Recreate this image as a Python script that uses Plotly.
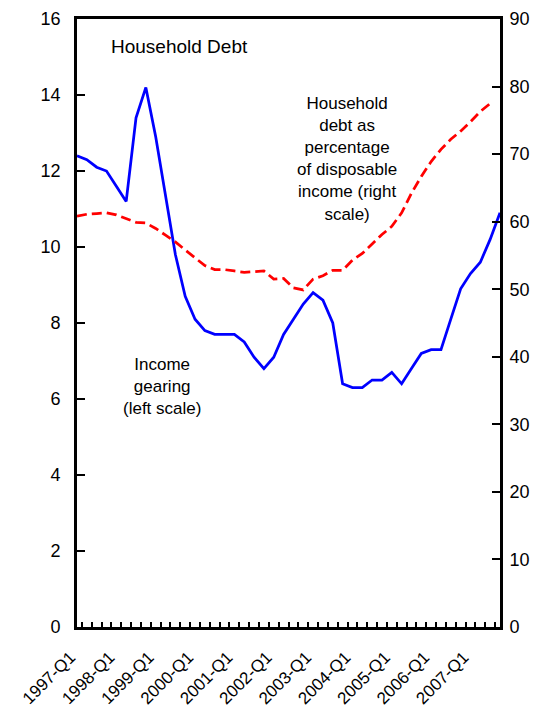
import plotly.graph_objects as go
from plotly.subplots import make_subplots

# palette / fonts
BLUE = "#0000FF"
RED = "#FF0000"
INK = "#000000"
FONT = "Arial, Liberation Sans, sans-serif"

# quarters 1997-Q1 .. 2007-Q4
years = list(range(1997, 2008))
quarters = [f"{y}-Q{q}" for y in years for q in range(1, 5)]
# trailing non-breaking spaces nudge the rotated labels down-left, like the original
tick_text = [q + "\u00a0\u00a0" if q.endswith("Q1") else "" for q in quarters]

# income gearing, % (left scale)
income_gearing = [
    12.4, 12.3, 12.1, 12.0, 11.6, 11.2, 13.4, 14.2,
    12.9, 11.4, 9.8, 8.7, 8.1, 7.8, 7.7, 7.7,
    7.7, 7.5, 7.1, 6.8, 7.1, 7.7, 8.1, 8.5,
    8.8, 8.6, 8.0, 6.4, 6.3, 6.3, 6.5, 6.5,
    6.7, 6.4, 6.8, 7.2, 7.3, 7.3, 8.1, 8.9,
    9.3, 9.6, 10.2, 10.9,
]

# household debt as % of disposable income (right scale)
debt_to_income = [
    60.8, 61.1, 61.2, 61.3, 61.0, 60.5, 59.9, 59.8,
    59.0, 58.0, 57.0, 55.8, 54.6, 53.5, 52.9, 52.9,
    52.7, 52.5, 52.6, 52.7, 51.5, 51.6, 50.2, 49.9,
    51.5, 52.0, 52.8, 52.8, 54.3, 55.3, 56.7, 58.1,
    59.3, 61.3, 64.2, 66.7, 68.9, 70.7, 72.2, 73.4,
    74.8, 76.3, 77.5, None,
]

fig = make_subplots(specs=[[{"secondary_y": True}]])

fig.add_trace(
    go.Scatter(x=quarters, y=income_gearing, mode="lines",
               line=dict(color=BLUE, width=2.75), showlegend=False),
    secondary_y=False,
)
fig.add_trace(
    go.Scatter(x=quarters, y=debt_to_income, mode="lines",
               line=dict(color=RED, width=2.75, dash="10px,5px"), showlegend=False),
    secondary_y=True,
)

# page body adds an 8px offset, so margins are trimmed by that amount
fig.update_layout(
    width=539, height=717,
    paper_bgcolor="white", plot_bgcolor="white",
    font=dict(family=FONT, color=INK, size=18),
    margin=dict(l=69, r=47, t=11, b=98),
    showlegend=False,
)

fig.update_xaxes(
    type="category", automargin=False, domain=[0, 1],
    tickmode="array", tickvals=quarters, ticktext=tick_text,
    tickson="boundaries", ticks="inside", ticklen=5, tickwidth=1.5, tickcolor=INK,
    tickangle=-45, tickfont=dict(size=17), ticklabelstandoff=4,
    showline=True, linecolor=INK, linewidth=2.75, mirror=True,
    showgrid=False, zeroline=False,
)
fig.update_yaxes(
    range=[0, 16], dtick=2, automargin=False,
    ticks="inside", ticklen=8, tickwidth=2, tickcolor=INK,
    showline=True, linecolor=INK, linewidth=2.75,
    showgrid=False, zeroline=False, tickfont=dict(size=18), ticklabelstandoff=10,
    secondary_y=False,
)
fig.update_yaxes(
    range=[0, 90], dtick=10, automargin=False,
    ticks="inside", ticklen=8, tickwidth=2, tickcolor=INK,
    showline=True, linecolor=INK, linewidth=2.75,
    showgrid=False, zeroline=False, tickfont=dict(size=18), ticklabelstandoff=3,
    secondary_y=True,
)

fig.add_annotation(
    xref="paper", yref="paper", x=0.075, y=0.955, xanchor="left", yanchor="middle",
    text="Household Debt", showarrow=False, font=dict(size=19),
)
fig.add_annotation(
    xref="paper", yref="paper", x=0.638, y=0.77, xanchor="center", yanchor="middle",
    text="Household<br>debt as<br>percentage<br>of disposable<br>income (right<br>scale)",
    showarrow=False, font=dict(size=17),
)
fig.add_annotation(
    xref="paper", yref="paper", x=0.20, y=0.395, xanchor="center", yanchor="middle",
    text="Income<br>gearing<br>(left scale)", showarrow=False, font=dict(size=17),
)

fig.write_html("out.html")
